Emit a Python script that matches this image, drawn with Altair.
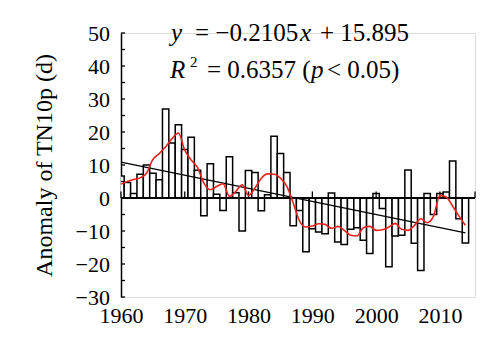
import altair as alt
import pandas as pd

# ---- data ----
years = list(range(1960, 2015))
anomaly = [6.7, 4.7, 1.4, 7.2, 10.0, 7.5, 5.5, 27.0, 16.7, 22.2,
           14.7, 18.4, 8.4, -5.4, 10.4, 1.1, -3.8, 12.5, 1.6, -10.0,
           8.3, 7.7, -3.9, 1.0, 18.7, 13.5, 7.7, -8.4, -3.8, -16.3,
           -9.3, -10.3, -10.8, 1.5, -13.3, -14.1, -9.5, -9.0, -12.8, -16.8,
           1.4, -3.2, -20.8, -11.5, -11.3, 8.5, -13.7, -22.0, 1.4, -5.0,
           1.4, 1.8, 11.2, -6.3, -13.6]
smooth = [4.2, 5.0, 5.6, 6.1, 7.5, 11.7, 13.5, 15.5, 18.0, 19.7,
          14.5, 11.5, 9.2, 4.5, 2.5, 3.5, 4.3, 0.5, 2.0, 4.0,
          0.8, 3.0, 6.0, 7.3, 7.2, 6.0, 3.5, -1.5, -7.0, -8.8,
          -8.5, -7.8, -8.0, -9.2, -8.6, -9.8, -11.3, -11.5, -9.0, -8.6,
          -9.8, -9.6, -8.8, -7.7, -9.5, -9.8, -8.3, -6.3, -7.5, -5.5,
          0.8, 0.3, -2.5, -5.5, -8.3]
trend_years = [1960, 2014]
trend_vals = [10.9, -10.6]

y_label_values = [-30, -20, -10, 0, 10, 20, 30, 40, 50]
y_tick_values = [-30, -25, -20, -15, -10, -5, 0, 5, 10, 15, 20, 25, 30, 35, 40, 45, 50]
x_label_values = [1960, 1970, 1980, 1990, 2000, 2010]
zero_tick_values = [1960, 1970, 1980, 1990, 2000, 2010, 2015.5]

FONT = "Liberation Serif"
W, H = 354, 264

df = pd.DataFrame({"year": years, "anomaly": anomaly, "smooth": smooth})
trend_df = pd.DataFrame({"year": trend_years, "value": trend_vals})
ytick_df = pd.DataFrame({"v": y_tick_values})
ylab_df = pd.DataFrame({"v": y_label_values})
ztick_df = pd.DataFrame({"year": zero_tick_values})

xs = alt.Scale(domain=[1960, 2015.5], nice=False, zero=False)
ys = alt.Scale(domain=[-30, 50], nice=False, zero=False)

x_axis = alt.Axis(values=x_label_values, format="d", ticks=False, domain=False,
                  grid=False, labelFont=FONT, labelFontSize=22, labelColor="black",
                  labelPadding=8, title=None, labelFlush=False, labelOverlap=False)
y_axis = alt.Axis(values=y_label_values, format="d", ticks=False, domain=True,
                  domainColor="black", domainWidth=1.5, grid=False,
                  labelFont=FONT, labelFontSize=22, labelColor="transparent",
                  labelPadding=10, labelOverlap=False, labelFlush=False,
                  title="Anomaly of TN10p (d)",
                  titleFont=FONT, titleFontSize=24, titleFontWeight="normal",
                  titleColor="black", titlePadding=20)


def X(field):
    return alt.X(field, type="quantitative", scale=xs, axis=x_axis, title=None)


def Y(field):
    return alt.Y(field, type="quantitative", scale=ys, axis=y_axis,
                 title="Anomaly of TN10p (d)")


bars = alt.Chart(df).transform_calculate(
    x0="datum.year - 0.5", x1="datum.year + 0.5"
).mark_bar(fill="white", stroke="black", strokeWidth=1.5, clip=True).encode(
    x=X("x0"),
    x2="x1:Q",
    y=Y("anomaly"),
    y2=alt.datum(0),
)

zero_line = alt.Chart(df).mark_rule(color="black", strokeWidth=1.5).encode(
    y=alt.datum(0), x=alt.value(0), x2=alt.value(W)
)

zero_ticks = alt.Chart(ztick_df).mark_rule(color="black", strokeWidth=1.3).encode(
    x=X("year"), y=alt.datum(0), y2=alt.datum(2)
)

y_ticks = alt.Chart(ytick_df).mark_rule(color="black", strokeWidth=1.3).encode(
    y=Y("v"), x=alt.value(0), x2=alt.value(4)
)

y_labels = alt.Chart(ylab_df).mark_text(
    font=FONT, fontSize=22, align="right", baseline="middle", color="black", dy=1
).encode(
    y=Y("v"), x=alt.value(-11), text=alt.Text("v:Q", format="d")
)

smooth_line = alt.Chart(df).mark_line(color="#e8231f", strokeWidth=1.6,
                                      interpolate="monotone").encode(
    x=X("year"), y=Y("smooth")
)

trend_line = alt.Chart(trend_df).mark_line(color="black", strokeWidth=1.3).encode(
    x=X("year"), y=Y("value")
)


def txt(s, x, y, italic=False, size=25):
    return alt.Chart(df).transform_filter("datum.year == 1960").mark_text(
        text=s, font=FONT, fontSize=size, align="left", baseline="alphabetic",
        fontStyle="italic" if italic else "normal", color="black"
    ).encode(x=alt.value(x), y=alt.value(y))


ly1, ly2 = 8, 45
texts = [
    txt("y", 50, ly1, True),
    txt("= \u22120.2105", 74, ly1),
    txt("x", 179, ly1, True),
    txt("+ 15.895", 199, ly1),
    txt("R", 49, ly2, True),
    txt("2", 69, ly2 - 11, False, 15),
    txt("= 0.6357 (", 86, ly2),
    txt("p", 190, ly2, True),
    txt("< 0.05)", 206, ly2),
]

chart = alt.layer(bars, zero_line, zero_ticks, y_ticks, y_labels, trend_line,
                  smooth_line, *texts).properties(
    width=W, height=H,
    autosize=alt.AutoSizeParams(type="none"),
    padding={"left": 121, "top": 33, "right": 25, "bottom": 54},
).configure_view(stroke=None).configure(background="white")

chart.save("out.html", embed_options={"renderer": "svg", "actions": False})
